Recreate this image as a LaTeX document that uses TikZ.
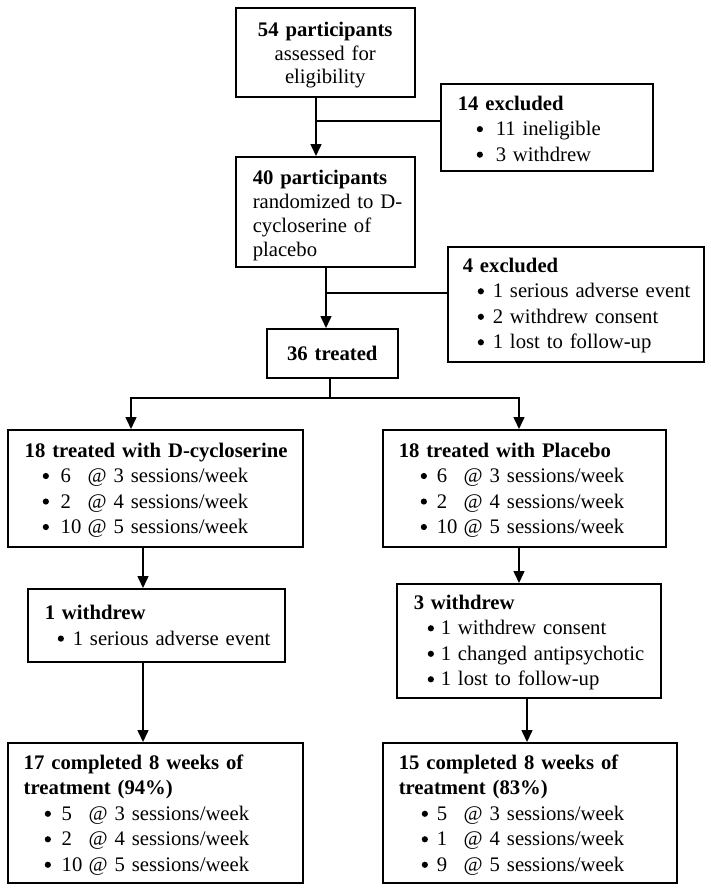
\documentclass[tikz,border=0pt]{standalone}
\usepackage{fontspec}
\setmainfont{Liberation Serif}
\usetikzlibrary{arrows.meta}
\newcommand{\bul}[2]{\hspace*{#1}\makebox[#2][l]{\tikz[baseline=-6.5pt]\fill (3.1pt,0pt) circle (3.1pt);}}
\newcommand{\nbx}[1]{\makebox[27pt][l]{#1}}
\newcommand{\pad}[1]{\hspace*{#1}}
\newcommand{\up}[1]{\rule{0pt}{#1}}
\begin{document}
\begin{tikzpicture}[x=1pt,y=-1pt,
  box/.style={draw,line width=1.5pt,inner xsep=0pt,inner ysep=0pt,anchor=north west,align=left,font=\fontsize{20.7}{25.5}\selectfont},
  para/.style={font=\fontsize{20.7}{23.7}\selectfont},
  arr/.style={line width=1.5pt,-{Triangle[length=12pt,width=11pt]}},
  ln/.style={line width=1.5pt,line cap=rect}]
\useasboundingbox (0,0) rectangle (710,889);

\node[box,para,text width=179pt,minimum height=89pt,align=center] (b1) at (235,7)
  {\up{20pt}\textbf{54 participants}\\assessed for\\eligibility};
\node[box,text width=212pt,minimum height=87pt] (ex1) at (440,83)
  {\up{17pt}\pad{17pt}\textbf{14 excluded}\\\bul{36pt}{19pt}11 ineligible\\\bul{36pt}{19pt}3 withdrew};
\node[box,para,text width=179pt,minimum height=110pt] (b2) at (235,156)
  {\up{22pt}\pad{17pt}\textbf{40 participants}\\\pad{17pt}randomized to D-\\\pad{17pt}cycloserine of\\\pad{17pt}placebo};
\node[box,text width=256pt,minimum height=115pt] (ex2) at (447,246)
  {\up{17pt}\pad{15pt}\textbf{4 excluded}\\\bul{30pt}{15pt}1 serious adverse event\\\bul{30pt}{15pt}2 withdrew consent\\\bul{30pt}{15pt}1 lost to follow-up};
\node[box,text width=131pt,minimum height=49pt,align=center] (t36) at (266,328)
  {\textbf{36 treated}};
\node[box,text width=295pt,minimum height=117pt] (dcs) at (7,429)
  {\up{18pt}\pad{17pt}\textbf{18 treated with D-cycloserine}\\
   \bul{35pt}{18pt}\nbx{6}@ 3 sessions/week\\
   \bul{35pt}{18pt}\nbx{2}@ 4 sessions/week\\
   \bul{35pt}{18pt}\nbx{10}@ 5 sessions/week};
\node[box,text width=283pt,minimum height=117pt] (pla) at (382,429)
  {\up{18pt}\pad{16pt}\textbf{18 treated with Placebo}\\
   \bul{38pt}{16pt}\nbx{6}@ 3 sessions/week\\
   \bul{38pt}{16pt}\nbx{2}@ 4 sessions/week\\
   \bul{38pt}{16pt}\nbx{10}@ 5 sessions/week};
\node[box,text width=257pt,minimum height=73pt] (w1) at (27,588)
  {\pad{17pt}\textbf{1 withdrew}\\\bul{30pt}{15pt}1 serious adverse event};
\node[box,text width=264pt,minimum height=114pt] (w3) at (396,583)
  {\up{18pt}\pad{17pt}\textbf{3 withdrew}\\
   \bul{31pt}{13pt}1 withdrew consent\\
   \bul{31pt}{13pt}1 changed antipsychotic\\
   \bul{31pt}{13pt}1 lost to follow-up};
\node[box,text width=295pt,minimum height=140pt] (c17) at (7,742)
  {\up{19pt}\pad{16pt}\textbf{17 completed 8 weeks of}\\\pad{16pt}\textbf{treatment (94\%)}\\
   \bul{37pt}{17pt}\nbx{5}@ 3 sessions/week\\
   \bul{37pt}{17pt}\nbx{2}@ 4 sessions/week\\
   \bul{37pt}{17pt}\nbx{10}@ 5 sessions/week};
\node[box,text width=294pt,minimum height=140pt] (c15) at (382,742)
  {\up{19pt}\pad{16pt}\textbf{15 completed 8 weeks of}\\\pad{16pt}\textbf{treatment (83\%)}\\
   \bul{39pt}{15pt}\nbx{5}@ 3 sessions/week\\
   \bul{39pt}{15pt}\nbx{1}@ 4 sessions/week\\
   \bul{39pt}{15pt}\nbx{9}@ 5 sessions/week};

\coordinate (j1) at (316,121);
\draw[arr] (b1.south -| j1) -- (b2.north -| j1);
\draw[ln] (j1) -- (ex1.west |- j1);
\coordinate (j2) at (326,293);
\draw[arr] (b2.south -| j2) -- (t36.north -| j2);
\draw[ln] (j2) -- (ex2.west |- j2);
\coordinate (j3) at (330,398);
\coordinate (jl) at (131,398);
\coordinate (jr) at (519,398);
\draw[ln] (t36.south -| j3) -- (j3);
\draw[ln] (jl) -- (jr);
\draw[arr] (jl) -- (dcs.north -| jl);
\draw[arr] (jr) -- (pla.north -| jr);
\coordinate (xl) at (143,600);
\draw[arr] (dcs.south -| xl) -- (w1.north -| xl);
\draw[arr] (w1.south -| xl) -- (c17.north -| xl);
\coordinate (xr) at (519,560);
\draw[arr] (pla.south -| xr) -- (w3.north -| xr);
\coordinate (xr2) at (527,720);
\draw[arr] (w3.south -| xr2) -- (c15.north -| xr2);
\end{tikzpicture}
\end{document}
